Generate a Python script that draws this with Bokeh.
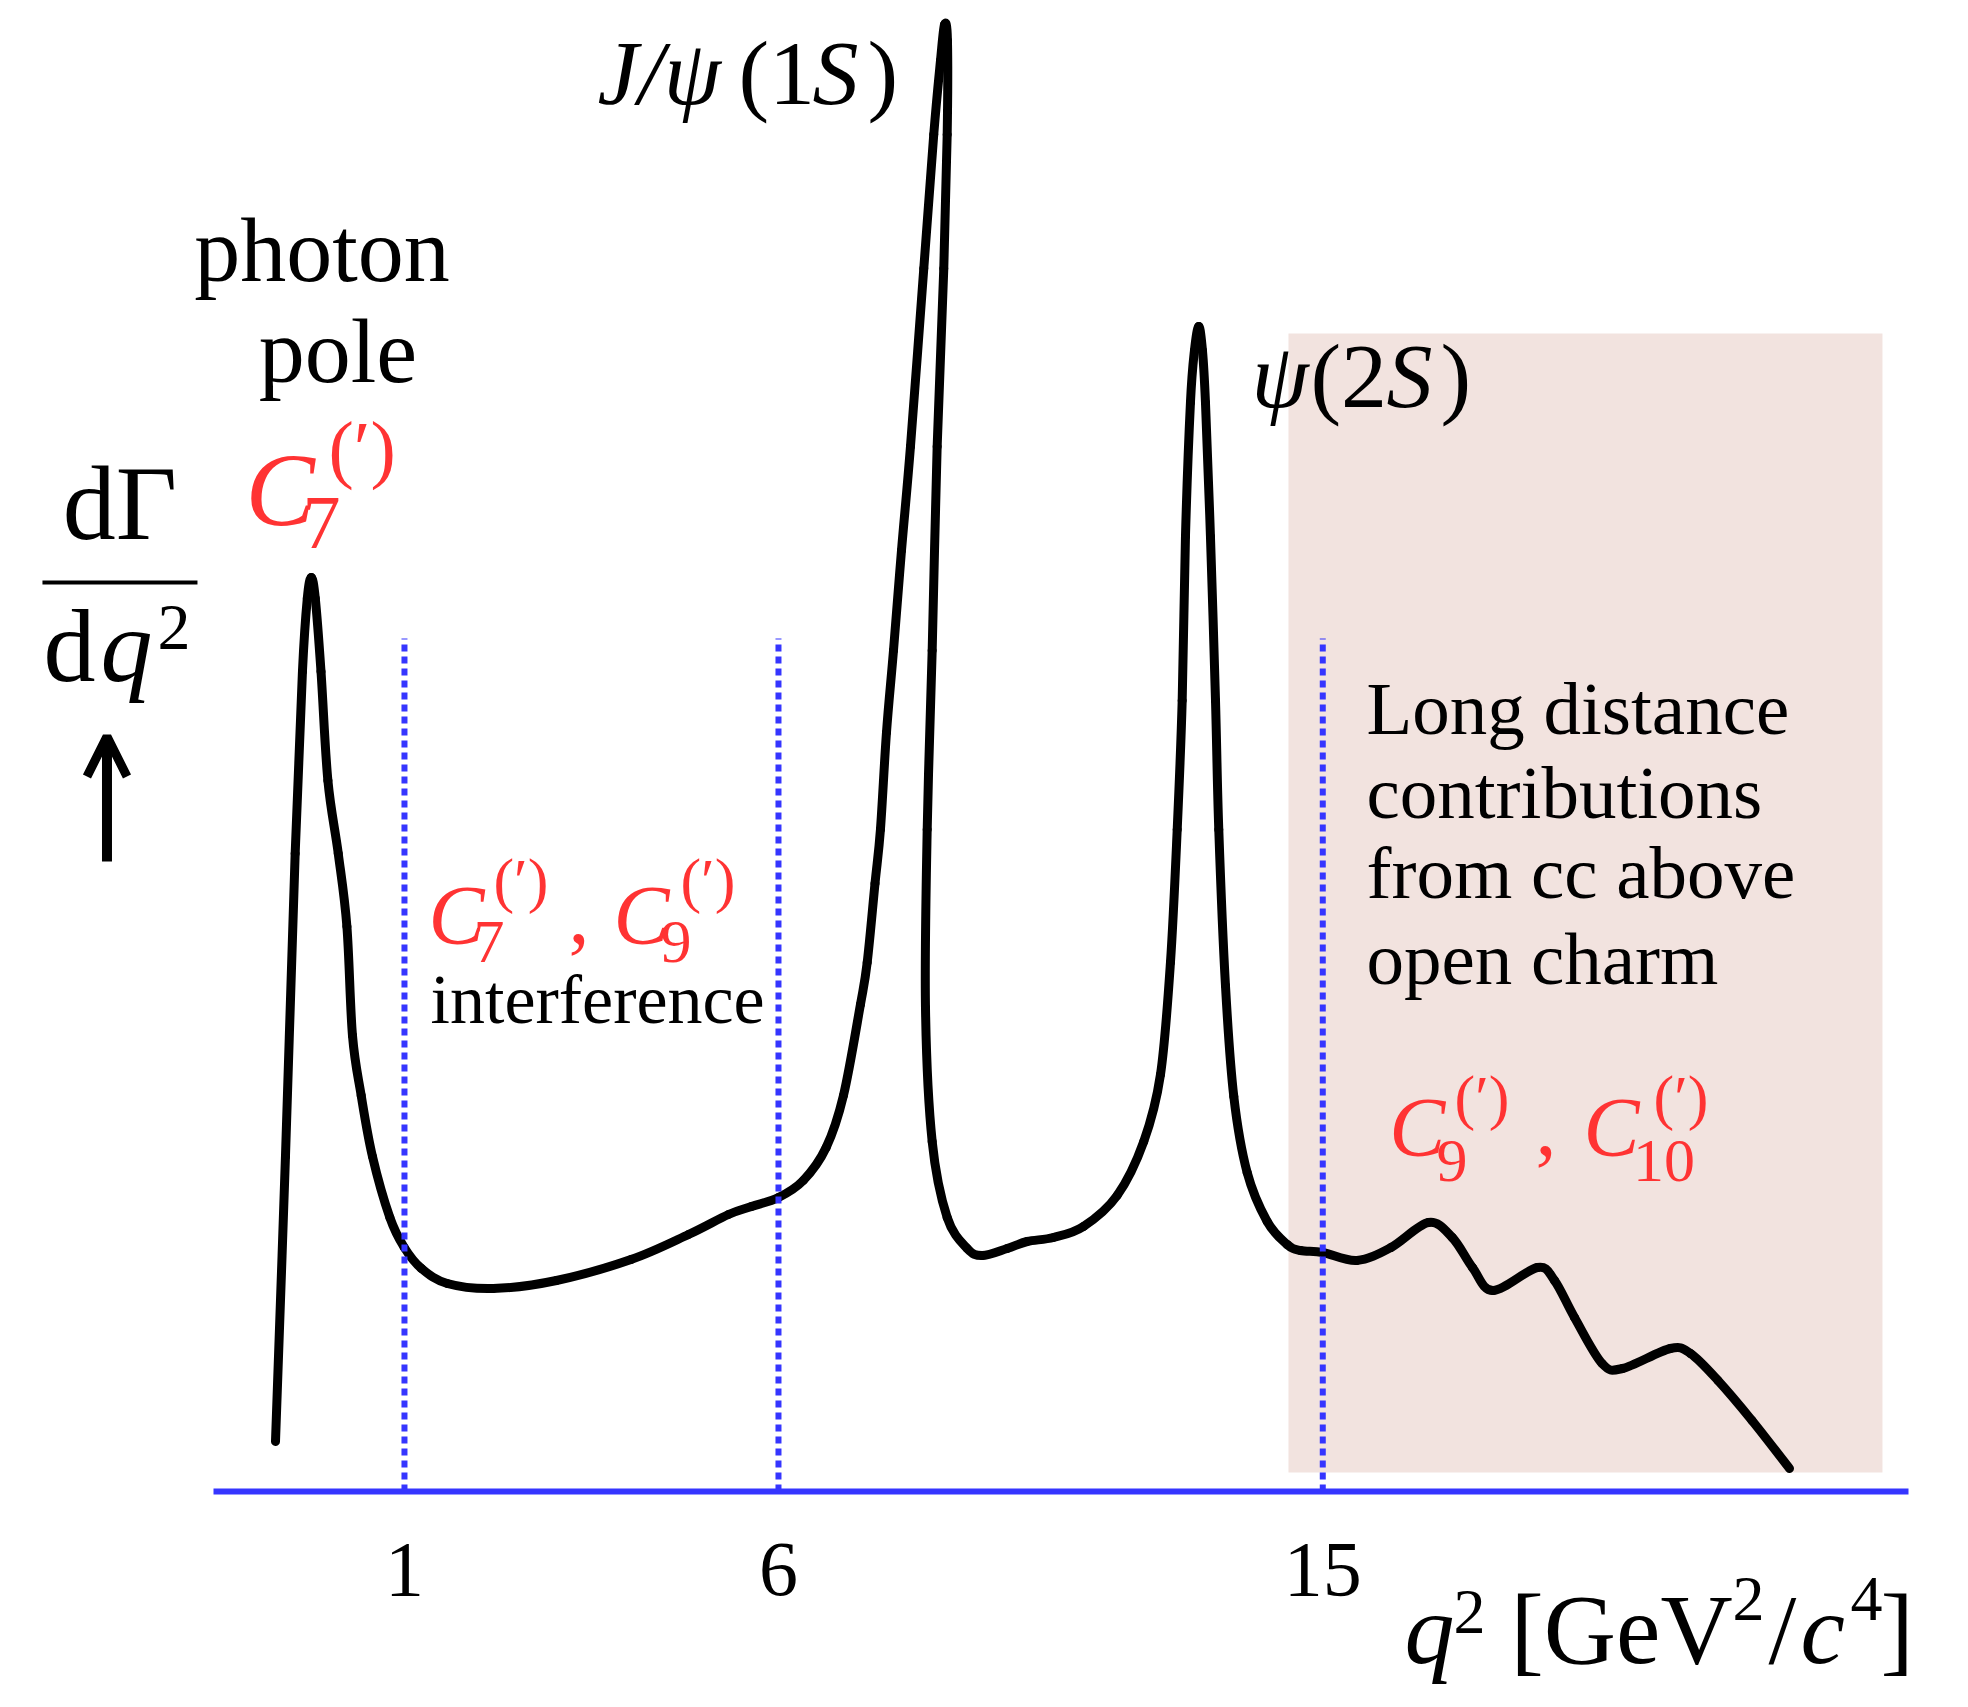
from bokeh.plotting import figure
from bokeh.models import ColumnDataSource, Range1d, FixedTicker, Label, Arrow, OpenHead
from bokeh.embed import file_html
from bokeh.resources import INLINE
from bokeh.core.properties import value

# ---------------- data (schematic units) ----------------
q2_curve = [-0.967, -0.815, -0.667, -0.556, -0.482, -0.421, -0.360, -0.273, -0.168, -0.010,
            0.122, 0.207, 0.340, 0.512, 0.777, 0.997, 1.259, 1.653, 2.354, 3.318,
            4.454, 5.331, 5.941, 6.292, 6.704, 7.082, 7.431, 7.695, 7.954, 8.057,
            8.176, 8.259, 8.351, 8.458, 8.580, 8.717, 8.920, 9.072, 9.175, 9.236,
            9.281, 9.277, 9.225, 9.124, 9.048, 8.972, 8.946, 9.048, 9.277, 9.582,
            9.810, 10.192, 10.497, 10.898, 11.355, 11.869, 12.275, 12.530, 12.682, 12.785,
            12.861, 12.911, 12.987, 13.048, 13.114, 13.170, 13.216, 13.292, 13.369, 13.419,
            13.521, 13.648, 13.852, 14.157, 14.462, 14.665, 15.005, 15.525, 16.045, 16.617,
            16.980, 17.288, 17.602, 18.279, 18.539, 18.844, 19.265, 19.576, 20.305, 20.613,
            21.032, 21.551, 22.123]
rate_curve = [0.50, 3.35, 6.38, 8.20, 8.93, 9.14, 8.93, 8.20, 7.11, 6.38,
              5.65, 4.56, 3.96, 3.35, 2.74, 2.44, 2.23, 2.08, 2.03, 2.11,
              2.32, 2.57, 2.77, 2.85, 2.94, 3.11, 3.44, 3.96, 4.87, 5.29,
              6.08, 6.62, 7.59, 8.41, 9.41, 10.45, 12.23, 13.57, 14.31, 14.67,
              14.51, 13.57, 12.23, 10.45, 8.41, 6.62, 4.84, 3.50, 2.74, 2.43,
              2.36, 2.43, 2.50, 2.54, 2.65, 2.96, 3.50, 4.17, 5.29, 6.62,
              7.91, 9.55, 10.89, 11.41, 11.65, 11.41, 10.89, 9.55, 7.91, 6.62,
              5.06, 3.95, 3.19, 2.70, 2.47, 2.41, 2.39, 2.31, 2.44, 2.69,
              2.54, 2.24, 2.01, 2.24, 2.11, 1.74, 1.28, 1.23, 1.43, 1.38,
              1.11, 0.71, 0.23]

bin_edges = [1.0, 6.704, 15.005]        # positions of the q^2 = 1, 6, 15 boundaries
bin_labels = ["1", "6", "15"]
bin_line_top = 8.53

open_charm_x = [14.482, 23.541]         # shaded "open charm" region
open_charm_y = [0.19, 11.58]

axis_extent = [-1.913, 23.94]

BLUE = "#3535ff"
RED = "#ff3333"
PINK = "#f2e3df"
SERIF = "Liberation Serif"
PX_PER_Y = 100.0        # vertical pixels per data unit
BASE_FIX = 0.335        # em offset so that text y is the baseline

p = figure(width=1952, height=1691,
           x_range=Range1d(-5.161, 24.609), y_range=Range1d(-2.00, 14.91),
           output_backend="svg", toolbar_location=None, y_axis_location=None,
           min_border_left=0, min_border_right=0, min_border_top=0, min_border_bottom=0)
p.outline_line_color = None
p.grid.grid_line_color = None
p.background_fill_color = "white"

# x axis: the blue baseline with the q^2 boundaries, drawn at y = 0
ax = p.xaxis[0]
ax.fixed_location = 0
ax.ticker = FixedTicker(ticks=bin_edges)
ax.major_label_overrides = {e: l for e, l in zip(bin_edges, bin_labels)}
ax.bounds = (axis_extent[0], axis_extent[1])
ax.axis_line_color = BLUE
ax.axis_line_width = 6
ax.major_tick_line_color = None
ax.minor_tick_line_color = None
ax.major_tick_in = 0
ax.major_tick_out = 0
ax.major_label_standoff = 52
ax.major_label_text_font = SERIF
ax.major_label_text_font_size = "78px"
ax.major_label_text_color = "black"

# shaded region
p.quad(left=[open_charm_x[0]], right=[open_charm_x[1]], bottom=[open_charm_y[0]], top=[open_charm_y[1]],
       fill_color=PINK, line_color=None)

# curve: smooth cubic pieces through the read points (Catmull-Rom -> Bezier)
n = len(q2_curve)
bz = dict(x0=[], y0=[], x1=[], y1=[], cx0=[], cy0=[], cx1=[], cy1=[])
for i in range(n - 1):
    a, b = max(i - 1, 0), min(i + 2, n - 1)
    bz["x0"].append(q2_curve[i]); bz["y0"].append(rate_curve[i])
    bz["x1"].append(q2_curve[i + 1]); bz["y1"].append(rate_curve[i + 1])
    bz["cx0"].append(q2_curve[i] + (q2_curve[i + 1] - q2_curve[a]) / 6)
    bz["cy0"].append(rate_curve[i] + (rate_curve[i + 1] - rate_curve[a]) / 6)
    bz["cx1"].append(q2_curve[i + 1] - (q2_curve[b] - q2_curve[i]) / 6)
    bz["cy1"].append(rate_curve[i + 1] - (rate_curve[b] - rate_curve[i]) / 6)
p.bezier(x0="x0", y0="y0", x1="x1", y1="y1", cx0="cx0", cy0="cy0", cx1="cx1", cy1="cy1",
         source=ColumnDataSource(bz), line_color="black", line_width=9, line_cap="round")

# dashed boundaries
p.segment(x0=bin_edges, x1=bin_edges, y0=[0] * len(bin_edges), y1=[bin_line_top] * len(bin_edges),
          line_color=BLUE, line_width=6, line_dash="7 5")


def add_runs(runs, color, align="left", font=SERIF):
    src = ColumnDataSource(dict(
        x=[r[1] for r in runs],
        y=[r[2] + BASE_FIX * r[3] / PX_PER_Y for r in runs],
        text=[r[0] for r in runs],
        size=[f"{r[3]}px" for r in runs], style=[r[4] for r in runs]))
    p.text(x="x", y="y", text="text", source=src, text_font=value(font),
           text_font_size="size", text_font_style="style", text_align=align,
           text_baseline="alphabetic", text_color=color)


# black labels
add_runs([("photon", -0.258, 12.11, 92, "normal"),
          ("pole", -0.014, 11.10, 92, "normal"),
          ("dΓ", -3.339, 9.52, 106, "normal")], "black", align="center")
add_runs([("J/ψ", 3.943, 13.88, 92, "italic"),
          ("(1", 6.094, 13.88, 92, "normal"),
          ("S", 7.222, 13.88, 92, "italic"),
          (")", 8.061, 13.88, 92, "normal"),
          ("ψ", 13.918, 10.85, 92, "italic"),
          ("(2", 14.817, 10.85, 92, "normal"),
          ("S", 15.976, 10.85, 92, "italic"),
          (")", 16.800, 10.85, 92, "normal"),
          ("interference", 1.397, 4.69, 70, "normal"),
          ("Long distance", 15.671, 7.58, 75, "normal"),
          ("contributions", 15.671, 6.74, 75, "normal"),
          ("from cc above", 15.671, 5.94, 75, "normal"),
          ("open charm", 15.671, 5.08, 75, "normal"),
          ("d", -4.506, 8.11, 104, "normal"),
          ("q", -3.636, 8.11, 104, "italic"),
          ("2", -2.767, 8.42, 66, "normal")], "black")

# red Wilson-coefficient labels
add_runs([("C", -1.425, 9.67, 104, "italic"),
          ("C", 1.366, 5.48, 84, "italic"),
          ("C", 4.187, 5.48, 84, "italic"),
          ("C", 16.017, 3.36, 84, "italic"),
          ("C", 18.981, 3.36, 84, "italic")], RED)
add_runs([("7", -0.556, 9.43, 76, "normal"),
          ("(′)", -0.159, 10.18, 76, "normal"),
          ("7", 2.052, 5.29, 62, "normal"),
          ("(′)", 2.357, 5.91, 62, "normal"),
          (",", 3.501, 5.48, 84, "normal"),
          ("9", 4.904, 5.29, 62, "normal"),
          ("(′)", 5.209, 5.91, 62, "normal"),
          ("9", 16.739, 3.10, 62, "normal"),
          ("(′)", 17.014, 3.74, 62, "normal"),
          (",", 18.249, 3.36, 84, "normal"),
          ("10", 19.736, 3.10, 62, "normal"),
          ("(′)", 20.049, 3.74, 62, "normal")], RED)

# fraction bar and arrow of the y label
p.segment(x0=[-4.521], x1=[-2.157], y0=[9.09], y1=[9.09], line_color="black", line_width=4)
p.add_layout(Arrow(end=OpenHead(size=40, line_width=9, line_color="black"),
                   x_start=-3.537, y_start=6.30, x_end=-3.537, y_end=7.55,
                   line_width=10, line_color="black"))

# x-axis title, composed of pieces
for txt, x, y, size, style in [("q", 16.251, -1.71, 100, "italic"),
                               ("2", 16.998, -1.42, 64, "normal"),
                               ("[GeV", 17.868, -1.71, 100, "normal"),
                               ("2", 21.253, -1.29, 64, "normal"),
                               ("/", 21.802, -1.71, 100, "normal"),
                               ("c", 22.290, -1.71, 100, "italic"),
                               ("4", 23.053, -1.29, 64, "normal"),
                               ("]", 23.511, -1.71, 100, "normal")]:
    p.add_layout(Label(x=x, y=y + BASE_FIX * size / PX_PER_Y, text=txt, text_font=SERIF,
                       text_font_size=f"{size}px", text_font_style=style,
                       text_baseline="alphabetic", text_color="black"))

open("out.html", "w").write(file_html(p, INLINE))
